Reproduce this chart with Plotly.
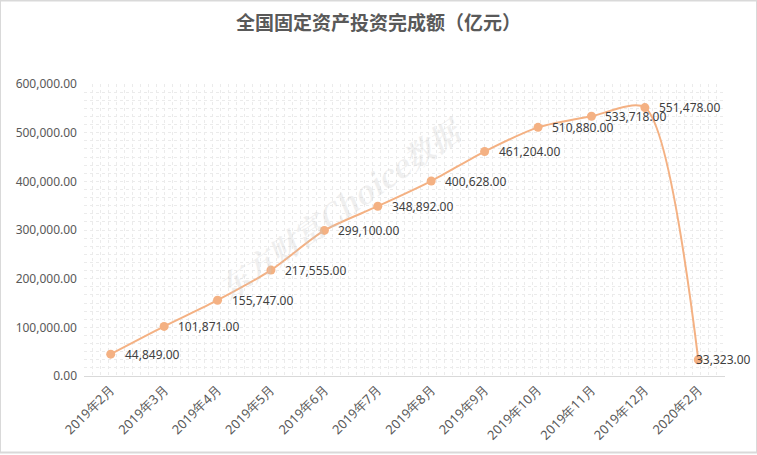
import plotly.graph_objects as go

categories = ["2019年2月", "2019年3月", "2019年4月", "2019年5月", "2019年6月", "2019年7月",
              "2019年8月", "2019年9月", "2019年10月", "2019年11月", "2019年12月", "2020年2月"]
values = [44849, 101871, 155747, 217555, 299100, 348892, 400628, 461204, 510880, 533718, 551478, 33323]
y_ticks = [0, 100000, 200000, 300000, 400000, 500000, 600000]

xpos = list(range(len(categories)))
labels = [f"{v:,.2f}" for v in values]

fig = go.Figure()
fig.add_trace(go.Scatter(
    x=xpos, y=values, mode="lines+markers",
    line=dict(color="#F4B183", width=2, shape="spline", smoothing=0.75),
    marker=dict(color="#F4B183", size=9),
    cliponaxis=False, showlegend=False, hoverinfo="skip",
))

for i, (xv, yv, t) in enumerate(zip(xpos, values, labels)):
    last = i == len(values) - 1
    fig.add_annotation(
        x=xv, y=yv, text=t, showarrow=False, xanchor="left", yanchor="middle",
        xshift=-4 if last else 12,
        font=dict(family="Noto Sans, sans-serif", size=12, color="#404040"),
    )

fig.add_annotation(
    x=0.4, y=0.58, xref="paper", yref="paper",
    text="<b><i>东方财富Choice数据</i></b>", showarrow=False, textangle=-35,
    font=dict(family="Noto Serif CJK SC, Noto Sans CJK SC", size=30, color="rgba(200,200,200,0.28)"),
)

fig.update_layout(
    width=757, height=455,
    margin=dict(l=84, r=32, t=84, b=77),
    paper_bgcolor="white", plot_bgcolor="white",
    title=dict(text="<b>全国固定资产投资完成额（亿元）</b>", x=0.5, xanchor="center", y=0.948, yanchor="middle",
               font=dict(family="Noto Sans CJK SC", size=19, color="#595959")),
    font=dict(family="Noto Sans, sans-serif", size=12, color="#595959"),
    shapes=[dict(type="rect", xref="paper", yref="paper", x0=-84/641, x1=1+32/641, y0=-77/294, y1=1+84/294,
                 line=dict(color="#d9d9d9", width=2), fillcolor="rgba(0,0,0,0)", layer="below")],
)
fig.update_xaxes(
    range=[-0.5, 11.5], tickmode="array", tickvals=xpos, ticktext=categories, tickangle=-45,
    showgrid=False, zeroline=False, showline=True, linecolor="#d9d9d9", linewidth=1,
    ticks="", tickfont=dict(size=13, color="#595959"),
    minor=dict(dtick=0.15, tick0=-0.5, showgrid=True, gridcolor="#ebebeb", griddash="dot", gridwidth=1),
)
fig.update_yaxes(
    range=[0, 600000], tickmode="array", tickvals=y_ticks, tickformat=",.2f",
    showgrid=True, gridcolor="#ebebeb", griddash="dot", gridwidth=1, zeroline=False,
    ticks="", tickfont=dict(size=12, color="#595959"), ticklabelstandoff=6,
    minor=dict(dtick=100000/6, showgrid=True, gridcolor="#ebebeb", griddash="dot", gridwidth=1),
)

fig.write_html("out.html")
